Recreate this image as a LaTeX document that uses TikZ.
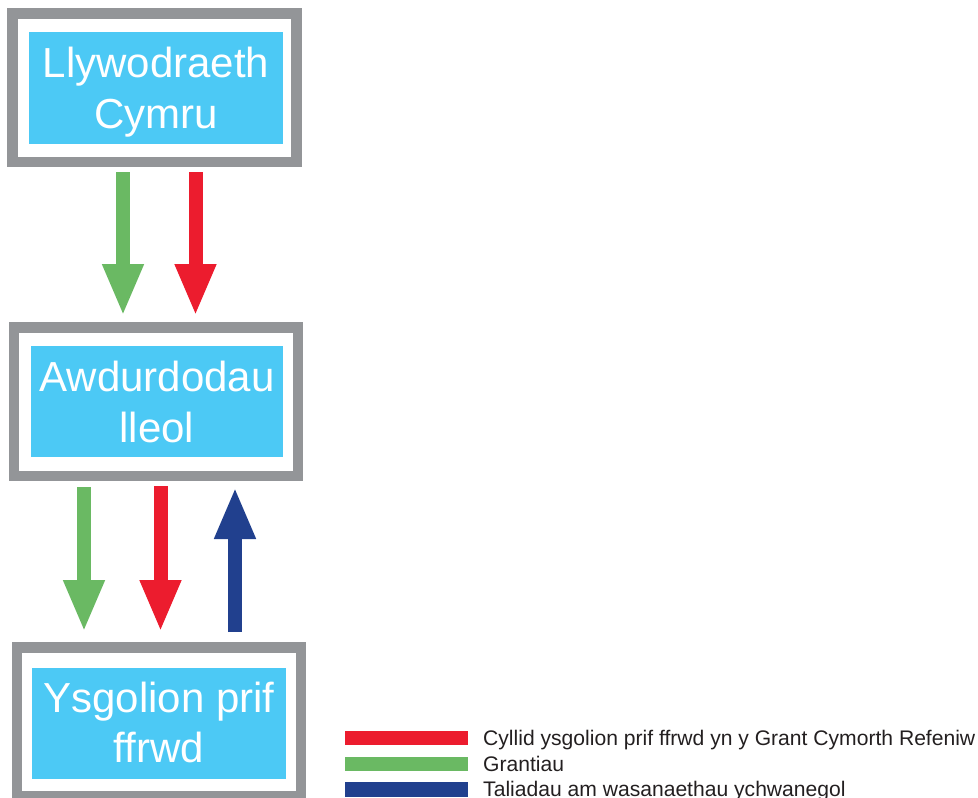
\documentclass[tikz,border=0pt]{standalone}
\usepackage{fontspec}
\setmainfont{Liberation Sans}
\usetikzlibrary{arrows.meta}
\definecolor{cyanbox}{HTML}{4CC9F5}
\definecolor{framegray}{HTML}{939598}
\definecolor{agreen}{HTML}{6AB963}
\definecolor{ared}{HTML}{EC1C2E}
\definecolor{ablue}{HTML}{21408E}
\definecolor{legtext}{HTML}{231F20}
\tikzset{
  frame/.style={draw=framegray, line width=10.5pt, fill=white, minimum width=284pt, minimum height=148.5pt, inner sep=0pt},
  inbox/.style={fill=cyanbox, inner sep=0pt, minimum height=111pt},
  lbl/.style={text=white, align=center, inner sep=0pt, font=\fontsize{42}{50.5}\selectfont},
  flow/.style={line width=14pt, -{Triangle[width=38pt,length=52pt]}},
  swatch/.style={inner sep=0pt, minimum width=123pt, minimum height=14.5pt},
  legl/.style={text=legtext, anchor=base west, inner sep=0pt, font=\fontsize{21.1}{24}\selectfont}
}
\begin{document}
\begin{tikzpicture}[x=1pt,y=-1pt]
\useasboundingbox (0,0) rectangle (978,798);
% boxes
\node[frame] (b1) at (154.5,87.5) {};
\node[inbox, minimum width=254pt, minimum height=112pt] (c1) at (156,88) {};
\node[lbl] (t1) at (156,92) {Llywodraeth\\Cymru};

\node[frame] (b2) at (156,401.5) {};
\node[inbox, minimum width=252pt] (c2) at (157,401.5) {};
\node[lbl] (t2) at (157,402) {Awdurdodau\\lleol};

\node[frame] (b3) at (159,721.5) {};
\node[inbox, minimum width=254pt] (c3) at (159,723.5) {};
\node[lbl] (t3) at (159,722.5) {Ysgolion prif\\ffrwd};

% arrow end points
\coordinate (g1a) at (123,172);   \coordinate (g1b) at (123,316);
\coordinate (r1a) at (195.5,172); \coordinate (r1b) at (195.5,316);
\coordinate (g2a) at (84,487);    \coordinate (g2b) at (84,632);
\coordinate (r2a) at (160.5,486); \coordinate (r2b) at (160.5,632);
\coordinate (u2a) at (235,632);   \coordinate (u2b) at (235,487);

\draw[flow, agreen] (g1a) -- (g1b);
\draw[flow, ared] (r1a) -- (r1b);
\draw[flow, agreen] (g2a) -- (g2b);
\draw[flow, ared] (r2a) -- (r2b);
\draw[flow, ablue] (u2a) -- (u2b);

% legend
\node[swatch, fill=ared]   (s1) at (406.5,738) {};
\node[swatch, fill=agreen] (s2) at (406.5,764) {};
\node[swatch, fill=ablue]  (s3) at (406.5,789.5) {};
\node[legl] (l1) at (483,745) {Cyllid ysgolion prif ffrwd yn y Grant Cymorth Refeniw};
\node[legl] (l2) at (483,771) {Grantiau};
\node[legl] (l3) at (483,796) {Taliadau am wasanaethau ychwanegol};
\end{tikzpicture}
\end{document}
